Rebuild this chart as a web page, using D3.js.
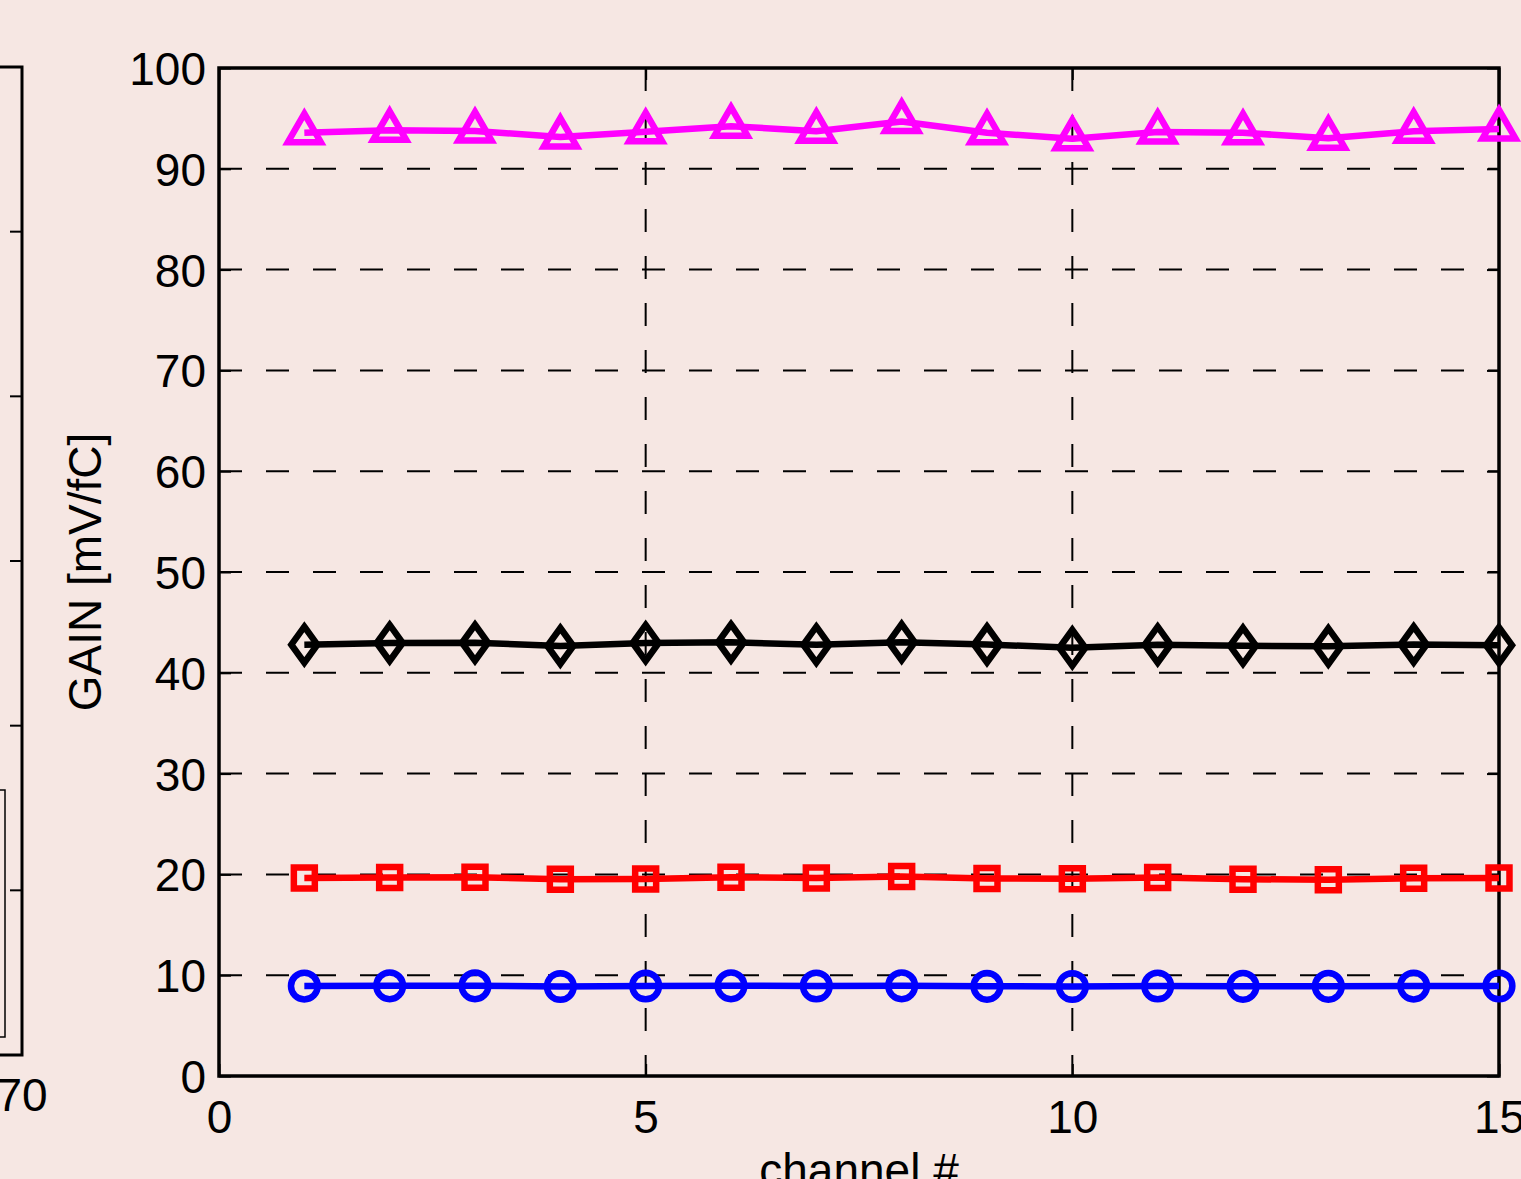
<!DOCTYPE html>
<html>
<head>
<meta charset="utf-8">
<script src="https://cdn.jsdelivr.net/npm/d3@7"></script>
<style>
  body { margin: 0; background: #f6e7e3; }
  svg { display: block; }
  text { font-family: "Liberation Sans", Arial, sans-serif; fill: #000; }
</style>
</head>
<body>
<svg width="1521" height="1179"></svg>
<script>
// channel numbers
var channels = [1, 2, 3, 4, 5, 6, 7, 8, 9, 10, 11, 12, 13, 14, 15];

// gain per channel, one array per setting
var gainMagenta = [93.58, 93.82, 93.75, 93.15, 93.68, 94.23, 93.73, 94.70, 93.58, 92.97, 93.65, 93.58, 93.02, 93.73, 93.95];
var gainBlack   = [42.79, 42.96, 42.98, 42.66, 42.96, 43.03, 42.79, 43.04, 42.81, 42.48, 42.79, 42.68, 42.63, 42.81, 42.73];
var gainRed     = [19.64, 19.69, 19.72, 19.52, 19.54, 19.72, 19.64, 19.79, 19.59, 19.57, 19.69, 19.52, 19.48, 19.62, 19.64];
var gainBlue    = [8.92, 8.95, 8.95, 8.88, 8.93, 8.95, 8.93, 8.95, 8.90, 8.88, 8.93, 8.90, 8.90, 8.92, 8.93];

var xTicks = [0, 5, 10, 15];
var yTicks = [0, 10, 20, 30, 40, 50, 60, 70, 80, 90, 100];

// neighbouring (cut off) panel on the left
var leftPanelTicks = [1, 2, 3, 4, 5];
var leftPanelXLabel = "70";

var svg = d3.select("svg");

var plot = { left: 219, right: 1499, top: 68, bottom: 1076 };

var x = d3.scaleLinear().domain([0, 15]).range([plot.left, plot.right]);
var y = d3.scaleLinear().domain([0, 100]).range([plot.bottom, plot.top]);

// ---- left partial panel ----
var yLeft = d3.scaleLinear().domain([0, 6]).range([1055, 67]);
var lp = svg.append("g");
lp.append("path")
    .attr("d", "M-10," + yLeft(6) + "H22V" + yLeft(0) + "H-10")
    .attr("fill", "none").attr("stroke", "#000").attr("stroke-width", 3);
lp.selectAll("line.lt")
    .data(leftPanelTicks)
    .enter().append("line")
    .attr("x1", 22).attr("x2", 10)
    .attr("y1", d => yLeft(d)).attr("y2", d => yLeft(d))
    .attr("stroke", "#000").attr("stroke-width", 2);
lp.append("rect")
    .attr("x", -20).attr("y", 790).attr("width", 25).attr("height", 247)
    .attr("fill", "none").attr("stroke", "#000").attr("stroke-width", 1.5);
lp.append("text")
    .attr("x", 22).attr("y", 1111)
    .attr("text-anchor", "middle")
    .style("font-size", "46px")
    .text(leftPanelXLabel);

// ---- grid ----
var grid = svg.append("g")
    .attr("stroke", "#000")
    .attr("stroke-width", 2)
    .attr("stroke-dasharray", "23,24");
grid.selectAll("line.gy")
    .data(yTicks.filter(d => d > 0 && d < 100))
    .enter().append("line")
    .attr("x1", plot.left).attr("x2", plot.right)
    .attr("y1", d => y(d)).attr("y2", d => y(d));
grid.selectAll("line.gx")
    .data(xTicks.filter(d => d > 0 && d < 15))
    .enter().append("line")
    .attr("y1", plot.top).attr("y2", plot.bottom)
    .attr("x1", d => x(d)).attr("x2", d => x(d));

// ---- axes (MATLAB-like box with inward ticks) ----
var tickLen = 12;
var axisLeft = svg.append("g").attr("transform", "translate(" + plot.left + ",0)")
    .call(d3.axisLeft(y).tickValues(yTicks).tickSize(-tickLen).tickPadding(13));
var axisRight = svg.append("g").attr("transform", "translate(" + plot.right + ",0)")
    .call(d3.axisRight(y).tickValues(yTicks).tickSize(-tickLen).tickFormat(""));
var axisBottom = svg.append("g").attr("transform", "translate(0," + plot.bottom + ")")
    .call(d3.axisBottom(x).tickValues(xTicks).tickSize(-tickLen).tickPadding(24));
var axisTop = svg.append("g").attr("transform", "translate(0," + plot.top + ")")
    .call(d3.axisTop(x).tickValues(xTicks).tickSize(-tickLen).tickFormat(""));

[axisLeft, axisRight, axisBottom, axisTop].forEach(function (a) {
    a.select(".domain").remove();
    a.selectAll(".tick line").attr("stroke", "#000").attr("stroke-width", 2);
    a.selectAll(".tick text")
        .attr("fill", "#000")
        .style("font-family", "'Liberation Sans', Arial, sans-serif")
        .style("font-size", "46px");
});
axisLeft.selectAll(".tick text").attr("dy", "0.36em");
axisBottom.selectAll(".tick text").attr("dy", "0.71em");

svg.append("rect")
    .attr("x", plot.left).attr("y", plot.top)
    .attr("width", plot.right - plot.left).attr("height", plot.bottom - plot.top)
    .attr("fill", "none").attr("stroke", "#000").attr("stroke-width", 3.5);

// axis titles
svg.append("text")
    .attr("transform", "translate(101," + ((plot.top + plot.bottom) / 2) + ") rotate(-90)")
    .attr("text-anchor", "middle")
    .style("font-size", "46px")
    .text("GAIN [mV/fC]");
svg.append("text")
    .attr("x", (plot.left + plot.right) / 2).attr("y", 1186)
    .attr("text-anchor", "middle")
    .style("font-size", "46px")
    .text("channel #");

// ---- series ----
var diamond = { draw: function (ctx, size) {
    var w = 13, h = 18;
    ctx.moveTo(0, -h); ctx.lineTo(w, 0); ctx.lineTo(0, h); ctx.lineTo(-w, 0); ctx.closePath();
} };

var series = [
    { values: gainBlue,    color: "#0000ff", symbol: d3.symbol().type(d3.symbolCircle).size(560) },
    { values: gainRed,     color: "#ff0000", symbol: d3.symbol().type(d3.symbolSquare).size(440) },
    { values: gainBlack,   color: "#000000", symbol: d3.symbol().type(diamond) },
    { values: gainMagenta, color: "#ff00ff", symbol: d3.symbol().type(d3.symbolTriangle).size(470) }
];

var line = d3.line()
    .x(d => x(d[0]))
    .y(d => y(d[1]));

series.forEach(function (s) {
    var pts = channels.map((c, i) => [c, s.values[i]]);
    var g = svg.append("g");
    g.append("path")
        .datum(pts)
        .attr("d", line)
        .attr("fill", "none")
        .attr("stroke", s.color)
        .attr("stroke-width", 6.5)
        .attr("stroke-linejoin", "round");
    g.selectAll("path.m")
        .data(pts)
        .enter().append("path")
        .attr("class", "m")
        .attr("transform", d => "translate(" + x(d[0]) + "," + y(d[1]) + ")")
        .attr("d", s.symbol)
        .attr("fill", "none")
        .attr("stroke", s.color)
        .attr("stroke-width", 6.5);
});
</script>
</body>
</html>
